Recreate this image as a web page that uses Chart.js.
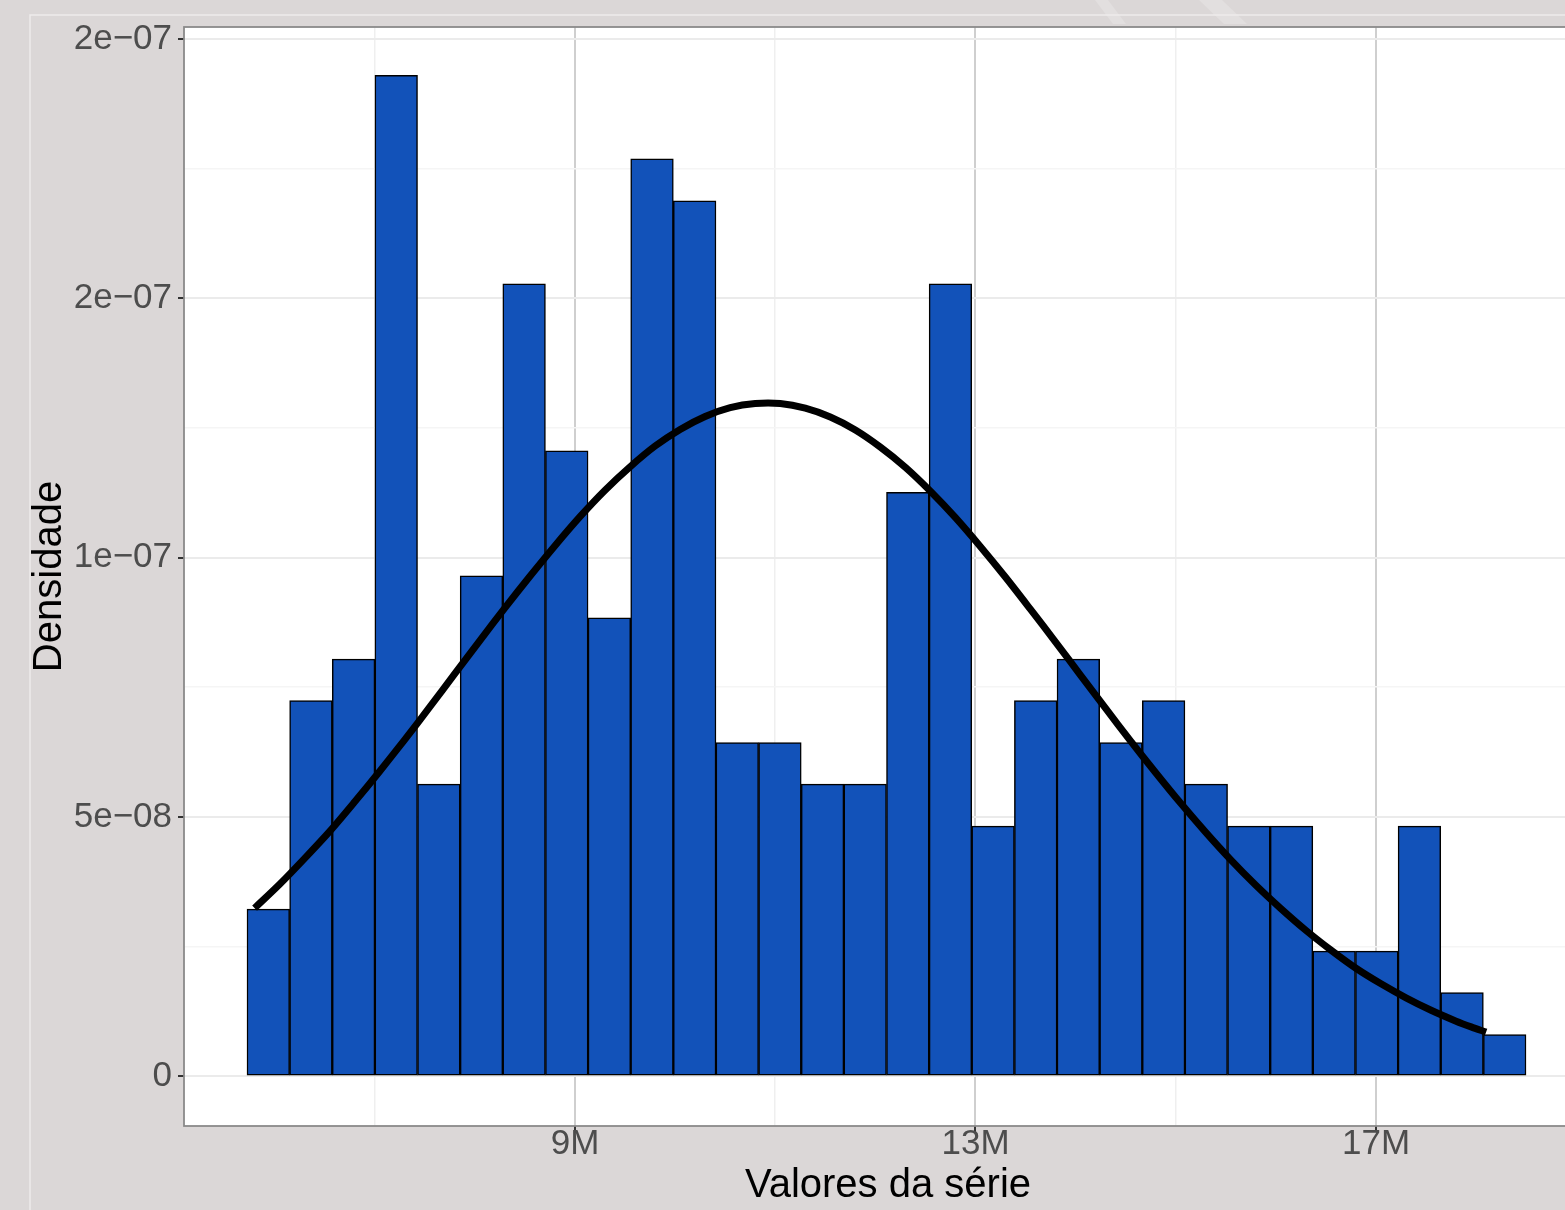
<!DOCTYPE html>
<html>
<head>
<meta charset="utf-8">
<title>Densidade</title>
<script src="https://cdn.jsdelivr.net/npm/chart.js@4.4.1/dist/chart.umd.min.js"></script>
<style>
html, body { margin: 0; padding: 0; overflow: hidden; background: #dbd7d7; }
#wrap { width: 1600px; height: 1210px; }
</style>
</head>
<body>
<div id="wrap"><canvas id="hist_canvas" width="1600" height="1210"></canvas></div>
<script>
// histogram bins (centre of each bin) and density of each bin
var binCenters = [5937000, 6362800, 6788600, 7214400, 7640200, 8066000, 8491800, 8917600, 9343400, 9769200,
	10195000, 10620800, 11046600, 11472400, 11898200, 12324000, 12749800, 13175600, 13601400, 14027200,
	14453000, 14878800, 15304600, 15730400, 16156200, 16582000, 17007800, 17433600, 17859400, 18285200];
var binDensity = [3.22e-8, 7.24e-8, 8.04e-8, 1.93e-7, 5.63e-8, 9.65e-8, 1.528e-7, 1.206e-7, 8.84e-8, 1.769e-7,
	1.688e-7, 6.43e-8, 6.43e-8, 5.63e-8, 5.63e-8, 1.126e-7, 1.528e-7, 4.82e-8, 7.24e-8, 8.04e-8,
	6.43e-8, 7.24e-8, 5.63e-8, 4.82e-8, 4.82e-8, 2.41e-8, 2.41e-8, 4.82e-8, 1.61e-8, 0.80e-8];

// normal curve laid over the histogram
var curveX = [5800000, 6050000, 6300000, 6550000, 6800000, 7050000, 7300000, 7550000, 7800000, 8050000,
	8300000, 8550000, 8800000, 9050000, 9300000, 9550000, 9800000, 10050000, 10300000, 10550000,
	10800000, 11050000, 11300000, 11550000, 11800000, 12050000, 12300000, 12550000, 12800000, 13050000,
	13300000, 13550000, 13800000, 14050000, 14300000, 14550000, 14800000, 15050000, 15300000, 15550000,
	15800000, 16050000, 16300000, 16550000, 16800000, 17050000, 17300000, 17550000, 17800000, 17950000,
	18100000];
var curveY = [3.24e-8, 3.70e-8, 4.20e-8, 4.72e-8, 5.29e-8, 5.88e-8, 6.49e-8, 7.12e-8, 7.76e-8, 8.40e-8,
	9.03e-8, 9.64e-8, 1.023e-7, 1.079e-7, 1.130e-7, 1.175e-7, 1.215e-7, 1.247e-7, 1.272e-7, 1.289e-7,
	1.297e-7, 1.297e-7, 1.288e-7, 1.271e-7, 1.246e-7, 1.213e-7, 1.174e-7, 1.128e-7, 1.077e-7, 1.021e-7,
	9.62e-8, 9.00e-8, 8.37e-8, 7.73e-8, 7.09e-8, 6.46e-8, 5.85e-8, 5.26e-8, 4.70e-8, 4.17e-8,
	3.68e-8, 3.23e-8, 2.81e-8, 2.43e-8, 2.08e-8, 1.78e-8, 1.51e-8, 1.27e-8, 1.06e-8, 0.95e-8,
	0.85e-8];

// axis ticks
var yTickValues = [0, 5e-8, 1e-7, 1.5e-7, 2e-7];
var yTickLabels = ['0', '5e\u221208', '1e\u221207', '2e\u221207', '2e\u221207'];
var yMinorValues = [2.5e-8, 7.5e-8, 1.25e-7, 1.75e-7];
var xTickValues = [9000000, 13000000, 17000000];
var xTickLabels = ['9M', '13M', '17M'];
var xMinorValues = [7000000, 11000000, 15000000, 19000000];

var barData = binCenters.map(function(c, i){ return {x: c, y: binDensity[i]}; });
var curveData = curveX.map(function(c, i){ return {x: c, y: curveY[i]}; });

function findLabel(values, labels, v){
	for (var i = 0; i < values.length; i++) {
		if (Math.abs(values[i] - v) < Math.abs(values[i]) * 1e-6 + 1e-15) return labels[i];
	}
	return '';
}

function tickList(major, minor){
	return major.concat(minor).sort(function(a, b){ return a - b; }).map(function(v){ return {value: v}; });
}

// grey page, white panel and its frame
var panelPlugin = {
	id: 'panel',
	beforeDraw: function(chart){
		var ctx = chart.ctx;
		var a = chart.chartArea;
		ctx.save();
		ctx.fillStyle = '#dbd7d7';
		ctx.fillRect(0, 0, chart.width, chart.height);
		// light streaks in the top band
		ctx.fillStyle = 'rgba(255,255,255,0.2)';
		ctx.beginPath();
		ctx.moveTo(1095, 0); ctx.lineTo(1108, 0); ctx.lineTo(1126, 24); ctx.lineTo(1113, 24);
		ctx.fill();
		ctx.beginPath();
		ctx.moveTo(1199, 0); ctx.lineTo(1222, 0); ctx.lineTo(1247, 24); ctx.lineTo(1224, 24);
		ctx.fill();
		// thin outer frame
		ctx.strokeStyle = '#eeebeb';
		ctx.lineWidth = 1.5;
		ctx.beginPath();
		ctx.moveTo(30, chart.height);
		ctx.lineTo(30, 15);
		ctx.lineTo(chart.width, 15);
		ctx.stroke();
		ctx.fillStyle = '#ffffff';
		ctx.fillRect(a.left, a.top, a.right - a.left, a.bottom - a.top);
		ctx.restore();
	},
	afterDraw: function(chart){
		var ctx = chart.ctx;
		var a = chart.chartArea;
		ctx.save();
		ctx.strokeStyle = '#8a8a8a';
		ctx.lineWidth = 1.8;
		ctx.strokeRect(a.left, a.top, a.right - a.left, a.bottom - a.top);
		ctx.restore();
	}
};

var font = 'Liberation Sans, Helvetica, Arial, sans-serif';

var ctx = document.getElementById('hist_canvas').getContext('2d');
var chart = new Chart(ctx, {
	type: 'bar',
	data: {
		datasets: [{
			type: 'line',
			data: curveData,
			borderColor: '#000000',
			borderWidth: 7,
			pointRadius: 0,
			fill: false,
			tension: 0.3,
			order: 0
		}, {
			type: 'bar',
			data: barData,
			backgroundColor: '#1252b9',
			borderColor: '#000000',
			borderWidth: 1.5,
			borderSkipped: false,
			barPercentage: 1,
			categoryPercentage: 1,
			order: 1
		}]
	},
	options: {
		responsive: false,
		devicePixelRatio: 1,
		animation: false,
		layout: { padding: { left: 0, top: 24, right: 8, bottom: 0 } },
		plugins: { legend: { display: false }, tooltip: { enabled: false } },
		scales: {
			x: {
				type: 'linear',
				offset: false,
				min: 5094900,
				max: 19157300,
				afterBuildTicks: function(scale){ scale.ticks = tickList(xTickValues, xMinorValues); },
				afterFit: function(scale){ scale.height = 84; },
				border: { display: false },
				grid: {
					offset: false,
					color: function(c){ return c.tick && c.tick.label ? '#cfcfcf' : '#efefef'; },
					lineWidth: function(c){ return c.tick && c.tick.label ? 2 : 1.5; },
					tickColor: function(c){ return c.tick && c.tick.label ? '#333333' : 'rgba(0,0,0,0)'; },
					tickLength: 6
				},
				ticks: {
					autoSkip: false,
					maxRotation: 0,
					padding: -5,
					color: '#4d4d4d',
					font: { family: font, size: 35, lineHeight: 1 },
					callback: function(v){ return findLabel(xTickValues, xTickLabels, v); }
				},
				title: {
					display: true,
					text: 'Valores da série',
					color: '#000000',
					font: { family: font, size: 40 },
					padding: { top: 0, bottom: 0 }
				}
			},
			y: {
				type: 'linear',
				min: -0.9615e-8,
				max: 2.0231e-7,
				afterBuildTicks: function(scale){ scale.ticks = tickList(yTickValues, yMinorValues); },
				afterFit: function(scale){ scale.width = 184; },
				border: { display: false },
				grid: {
					color: function(c){ return c.tick && c.tick.label ? '#ebebeb' : '#f5f5f5'; },
					lineWidth: function(c){ return c.tick && c.tick.label ? 2 : 1.5; },
					tickColor: function(c){ return c.tick && c.tick.label ? '#333333' : 'rgba(0,0,0,0)'; },
					tickLength: 6
				},
				ticks: {
					autoSkip: false,
					padding: 6,
					color: '#4d4d4d',
					font: { family: font, size: 35 },
					callback: function(v){ return findLabel(yTickValues, yTickLabels, v); }
				},
				title: {
					display: true,
					text: 'Densidade',
					color: '#000000',
					font: { family: font, size: 40 },
					padding: { top: 26, bottom: 0 }
				}
			}
		}
	},
	plugins: [panelPlugin]
});
</script>
</body>
</html>
